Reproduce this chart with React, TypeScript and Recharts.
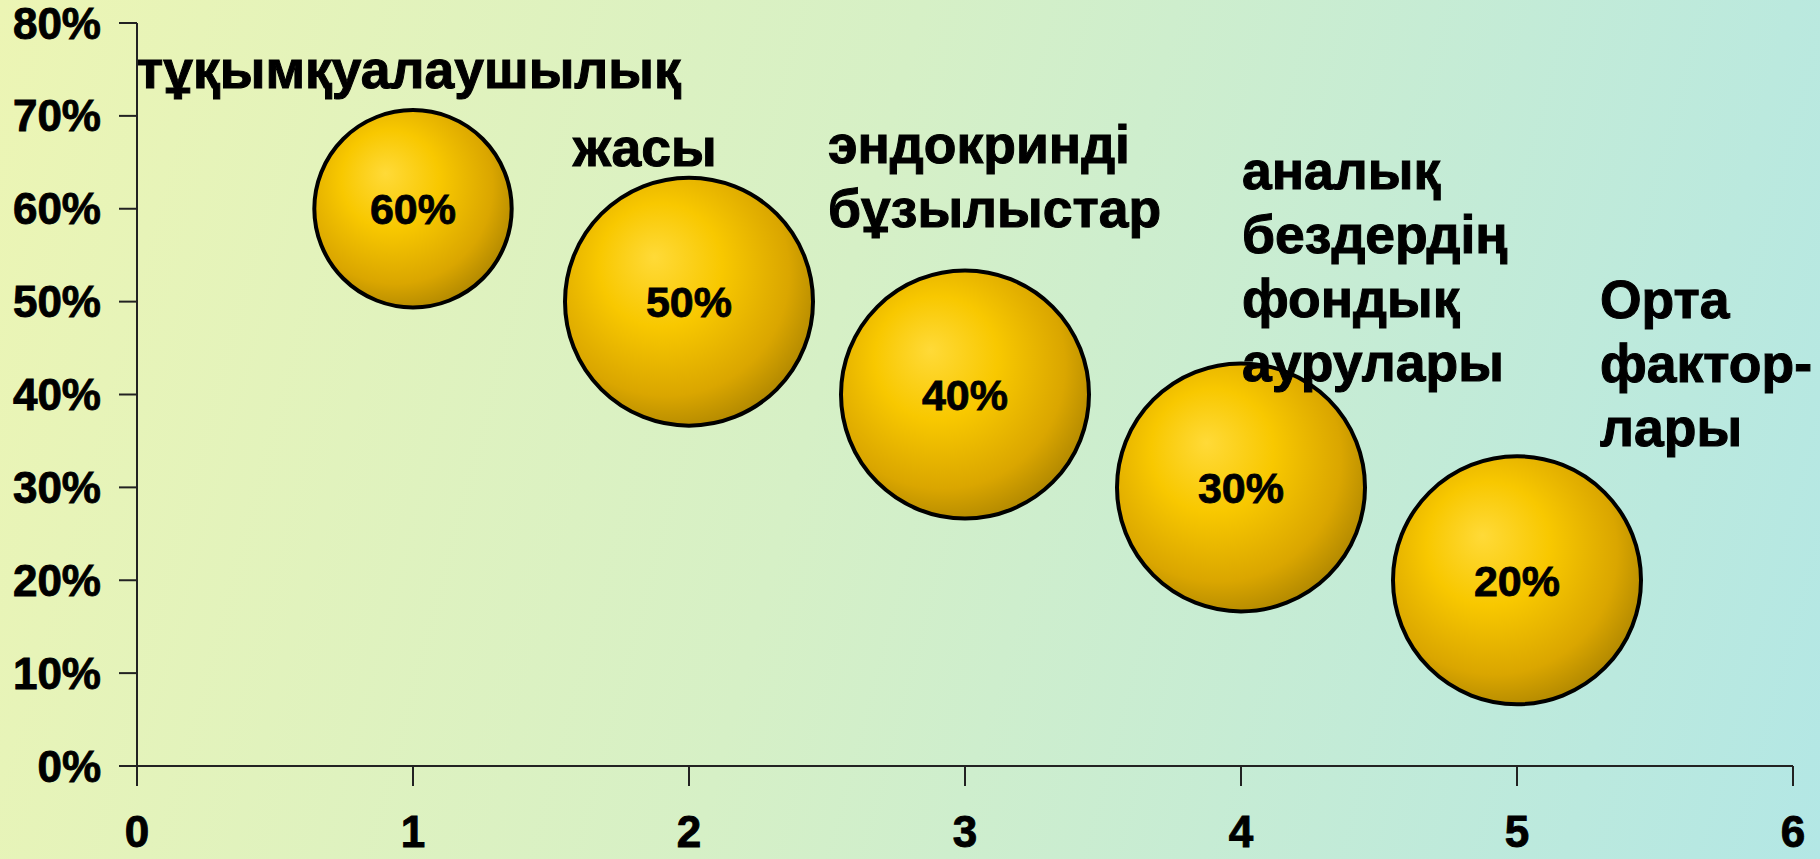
import { LabelList, Scatter, ScatterChart, XAxis, YAxis, ZAxis } from "recharts";

const positions = [1, 2, 3, 4, 5];
const shares = [60, 50, 40, 30, 20];
const bubbleSizes = [1.9, 3, 3, 3, 3];
const factorNames = [
  ["тұқымқуалаушылық"],
  ["жасы"],
  ["эндокринді", "бұзылыстар"],
  ["аналық", "бездердің", "фондық", "аурулары"],
  ["Орта", "фактор-", "лары"],
];
const xTicks = [0, 1, 2, 3, 4, 5, 6];
const yTicks = [0, 10, 20, 30, 40, 50, 60, 70, 80];

const data = positions.map((x, i) => ({ x, y: shares[i], z: bubbleSizes[i], name: factorNames[i] }));

// hand-placed label blocks, relative to the bubble centre (left edge, first baseline)
const nameOffsets = [
  { dx: -276, dy: -121 },
  { dx: -116, dy: -136 },
  { dx: -137, dy: -232 },
  { dx: 1, dy: -298 },
  { dx: 83, dy: -262 },
];

const FONT = "'Liberation Sans', Arial, sans-serif";
const AXIS = "#222";

function Ball(props: any) {
  const { cx, cy, width, index } = props;
  const r = width / 2;
  const id = `ball-${index}`;
  return (
    <g>
      <defs>
        <radialGradient id={id} cx="42%" cy="40%" r="62%" fx="36%" fy="32%">
          <stop offset="0%" stopColor="#FFDA38" />
          <stop offset="40%" stopColor="#F8C800" />
          <stop offset="80%" stopColor="#DAA600" />
          <stop offset="100%" stopColor="#B48A00" />
        </radialGradient>
      </defs>
      <circle cx={cx} cy={cy} r={r} fill={`url(#${id})`} stroke="#000" strokeWidth={4} />
    </g>
  );
}

function FactorName(props: any) {
  const vb = props.viewBox ?? props;
  const i = props.index ?? 0;
  const cx = vb.x + vb.width / 2;
  const cy = vb.y + vb.height / 2;
  const lines: string[] = factorNames[i] ?? [];
  const off = nameOffsets[i];
  return (
    <text
      x={cx + off.dx}
      y={cy + off.dy}
      fontFamily={FONT}
      fontWeight={700}
      fontSize={53.5}
      fill="#000"
      stroke="#000"
      strokeWidth={1}
    >
      {lines.map((t, k) => (
        <tspan key={k} x={cx + off.dx} dy={k === 0 ? 0 : 64}>
          {t}
        </tspan>
      ))}
    </text>
  );
}

export default function App() {
  const tick = { fill: "#000", stroke: "#000", strokeWidth: 0.9, fontSize: 44, fontWeight: 700, fontFamily: FONT };
  return (
    <div
      style={{
        position: "fixed",
        left: 0,
        top: 0,
        width: 1820,
        height: 859,
        background: "linear-gradient(105deg, #ECF5B4 0%, #D6F0C6 45%, #B3E7E5 100%)",
      }}
    >
      <style>{"body{margin:0}"}</style>
      <ScatterChart width={1820} height={859} margin={{ top: 23, right: 27, left: 0, bottom: 0 }}>
        <XAxis
          type="number"
          dataKey="x"
          domain={[0, 6]}
          ticks={xTicks}
          interval={0}
          height={93}
          tickSize={20}
          tickMargin={30}
          tick={tick}
          axisLine={{ stroke: AXIS, strokeWidth: 2 }}
          tickLine={{ stroke: AXIS, strokeWidth: 2 }}
        />
        <YAxis
          type="number"
          dataKey="y"
          domain={[0, 80]}
          ticks={yTicks}
          interval={0}
          width={137}
          tickSize={18}
          tickMargin={18}
          tickFormatter={(v) => `${v}%`}
          tick={tick}
          axisLine={{ stroke: AXIS, strokeWidth: 2 }}
          tickLine={{ stroke: AXIS, strokeWidth: 2 }}
        />
        <ZAxis type="number" dataKey="z" domain={[0, 3]} range={[0, Math.PI * 124 * 124]} />
        <Scatter data={data} shape={<Ball />} isAnimationActive={false}>
          <LabelList
            dataKey="y"
            position="center"
            formatter={(v: any) => `${v}%`}
            fill="#000"
            stroke="#000"
            strokeWidth={0.8}
            fontSize={43}
            fontWeight={700}
            fontFamily={FONT}
          />
          <LabelList dataKey="y" content={<FactorName />} />
        </Scatter>
      </ScatterChart>
    </div>
  );
}
